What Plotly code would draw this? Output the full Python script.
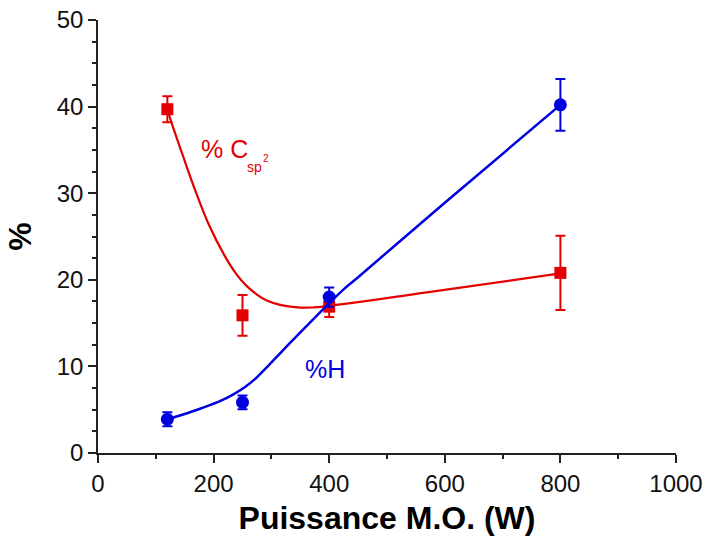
import plotly.graph_objects as go

# Microwave power (W) and measured fractions (%)
power = [120, 250, 400, 800]
csp2 = [39.7, 15.9, 16.9, 20.8]
csp2_err = [1.5, 2.35, 1.2, 4.3]
hydrogen = [3.9, 5.85, 18.0, 40.2]
hydrogen_err = [0.8, 0.8, 1.1, 3.0]

# Guide curves (smoothed trend through the measurements)
csp2_fit_x = [120, 127.5, 147.6, 167.8, 190.9, 219.7, 240, 257, 275, 292,
              315, 340, 370, 400, 575, 800]
csp2_fit_y = [39.7, 38.1, 34.2, 30.4, 26.5, 22.7, 20.6, 19.3, 18.3, 17.6,
              17.1, 16.85, 16.8, 17.0, 18.6, 20.75]
h_fit_x = [120, 150, 180, 210, 235, 255, 275, 295, 315, 340, 365, 385,
           400, 425, 450, 600, 800]
h_fit_y = [3.9, 4.5, 5.2, 5.95, 6.8, 7.65, 8.75, 10.1, 11.5, 13.25, 14.95,
           16.3, 17.3, 18.9, 20.3, 28.9, 40.2]

RED = "#e30000"
BLUE = "#0000e0"
FONT = "Liberation Sans, Arial, sans-serif"

fig = go.Figure()

fig.add_trace(go.Scatter(
    x=csp2_fit_x, y=csp2_fit_y, mode="lines",
    line=dict(color=RED, width=2.2, shape="spline", smoothing=1), hoverinfo="skip"))
fig.add_trace(go.Scatter(
    x=power, y=csp2, mode="markers",
    marker=dict(symbol="square", size=12, color=RED),
    error_y=dict(type="data", array=csp2_err, color=RED, thickness=2, width=5)))

fig.add_trace(go.Scatter(
    x=h_fit_x, y=h_fit_y, mode="lines",
    line=dict(color=BLUE, width=2.5, shape="spline", smoothing=1), hoverinfo="skip"))
fig.add_trace(go.Scatter(
    x=power, y=hydrogen, mode="markers",
    marker=dict(symbol="circle", size=13, color=BLUE),
    error_y=dict(type="data", array=hydrogen_err, color=BLUE, thickness=2, width=5)))

# Series labels
fig.add_annotation(x=175, y=35.1, text="% C", showarrow=False,
                   xanchor="left", yanchor="middle",
                   font=dict(family=FONT, size=25, color=RED))
fig.add_annotation(x=254, y=33.0, text="sp", showarrow=False,
                   xanchor="left", yanchor="middle",
                   font=dict(family=FONT, size=14, color=RED))
fig.add_annotation(x=282, y=34.0, text="2", showarrow=False,
                   xanchor="left", yanchor="middle",
                   font=dict(family=FONT, size=10, color=RED))
fig.add_annotation(x=355, y=9.7, text="%H", showarrow=False,
                   xanchor="left", yanchor="middle",
                   font=dict(family=FONT, size=25, color=BLUE))

axis_common = dict(
    showline=True, linecolor="#222222", linewidth=1.5,
    ticks="outside", ticklen=8, tickwidth=1.5, tickcolor="#222222",
    showgrid=False, zeroline=False, mirror=False, automargin=False,
    tickfont=dict(family=FONT, size=24, color="#111111"),
)

fig.update_xaxes(
    range=[0, 1000], tick0=0, dtick=200,
    minor=dict(dtick=100, ticks="outside", ticklen=4, tickcolor="#222222", tickwidth=1.5),
    title=dict(text="Puissance M.O. (W)", standoff=11,
               font=dict(family=FONT, size=32, color="#000000", weight="bold")),
    **axis_common)
fig.update_yaxes(
    range=[0, 50], tick0=0, dtick=10,
    minor=dict(dtick=2.5, ticks="outside", ticklen=4, tickcolor="#222222", tickwidth=1.5),
    title=dict(text="%", standoff=16,
               font=dict(family=FONT, size=32, color="#000000", weight="bold")),
    **axis_common)

fig.update_layout(
    width=706, height=546,
    margin=dict(l=98, r=30, t=20, b=93),
    paper_bgcolor="white", plot_bgcolor="white",
    showlegend=False,
)

fig.write_html("out.html")
